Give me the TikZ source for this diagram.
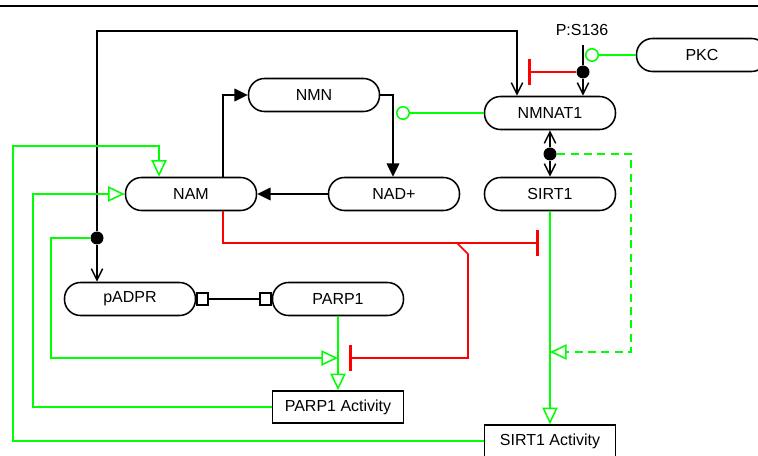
\documentclass[tikz,border=0pt]{standalone}
\usepackage{fontspec}
\setmainfont{Liberation Sans}
\usepackage{xcolor}
\usetikzlibrary{arrows.meta}
\definecolor{lgreen}{RGB}{0,255,0}
\definecolor{lred}{RGB}{255,0,0}
\tikzset{
  pill/.style={draw, rounded corners=12pt, minimum width=98.25pt, minimum height=24.75pt, inner sep=0pt},
  box/.style={draw, minimum width=98.25pt, minimum height=24pt, inner sep=0pt},
  dot/.style={circle, fill, inner sep=0pt, minimum size=9.75pt},
  conv/.style={-{Triangle[length=10pt,width=9.5pt]}},
  act/.style={-{Straight Barb[length=8.5pt,width=8.5pt]}},
  stim/.style={lgreen, -{Triangle[open,length=12.5pt,width=11.5pt]}},
  inh/.style={lred, -{Bar[width=19.5pt,line width=2.2pt]}},
  mod/.style={lgreen, -{Circle[open,length=10.5pt]}},
  sq/.style={{Square[open,length=9.5pt,width=10pt]}-{Square[open,length=9.5pt,width=10pt]}}
}
\begin{document}
\begin{tikzpicture}[x=0.75pt,y=-0.75pt,line width=1.15pt,font=\fontsize{12}{14}\selectfont]
\useasboundingbox (0,0) rectangle (758,456);
\draw (0,6) -- (758,6);

\node[pill] (nmn) at (314,95) {NMN};
\node[pill] (nam) at (191,194) {NAM};
\node[pill] (nad) at (394,194) {NAD+};
\node[pill] (nmnat) at (550,113) {NMNAT1};
\node[pill] (sirt) at (550,194) {SIRT1};
\node[pill] (pkc) at (702,55) {PKC};
\node[pill] (padpr) at (130,299) {pADPR};
\node[pill] (parp) at (338,299) {PARP1};
\node[box] (parpact) at (338,407) {PARP1 Activity};
\node[box] (sirtact) at (550,441) {SIRT1 Activity};
\node (ps) at (582,30) {P:S136};

\node[dot] (dA) at (97,238) {};
\node[dot] (dB) at (583,72) {};
\node[dot] (dC) at (550,154) {};

\coordinate (c1) at (517,31);
\coordinate (c2) at (583,45);
\coordinate (c3) at (528,72);
\coordinate (c4) at (585,55);
\coordinate (c5) at (396,113);
\coordinate (c6) at (393,95);
\coordinate (c7) at (223,95);
\coordinate (c8) at (631,352);
\coordinate (c9) at (539,243);
\coordinate (c10) at (457,243);
\coordinate (c11) at (468,254);
\coordinate (c12) at (349,358);
\coordinate (c13) at (33,194);
\coordinate (c14) at (13,146);
\coordinate (c15) at (159,146);
\coordinate (g1) at (51,358);

\draw[act] (dA) |- (c1) -- (c1 |- nmnat.north);
\draw[act] (dA) -- (dA |- padpr.north);
\draw[stim] (dA) -| (g1) -- (g1 -| parp.south);
\draw (c2) -- (dB);
\draw[act] (dB) -- (dB |- nmnat.north);
\draw[inh] (dB) -- (c3);
\draw[mod] (pkc) -- (c4);
\draw[mod] (nmnat) -- (c5);
\draw[conv] (nmn.east) -- (c6) -- (c6 |- nad.north);
\draw[conv] (c7 |- nam.north) -- (c7) -- (nmn.west);
\draw[conv] (nad) -- (nam);
\draw[act] (dC) -- (nmnat);
\draw[act] (dC) -- (sirt);
\draw[stim,dashed,dash pattern=on 6pt off 4pt] (dC) -| (c8) -- (c8 -| sirt);
\draw[stim] (sirt) -- (sirtact);
\draw[inh] (c7 |- nam.south) |- (c9);
\draw[inh] (c10) -- (c11) |- (c12);
\draw[stim] (parp) -- (parpact);
\draw[sq] (padpr) -- (parp);
\draw[stim] (parpact) -| (c13) -- (nam);
\draw[stim] (sirtact) -| (c14) -- (c15) -- (c15 |- nam.north);
\end{tikzpicture}
\end{document}
